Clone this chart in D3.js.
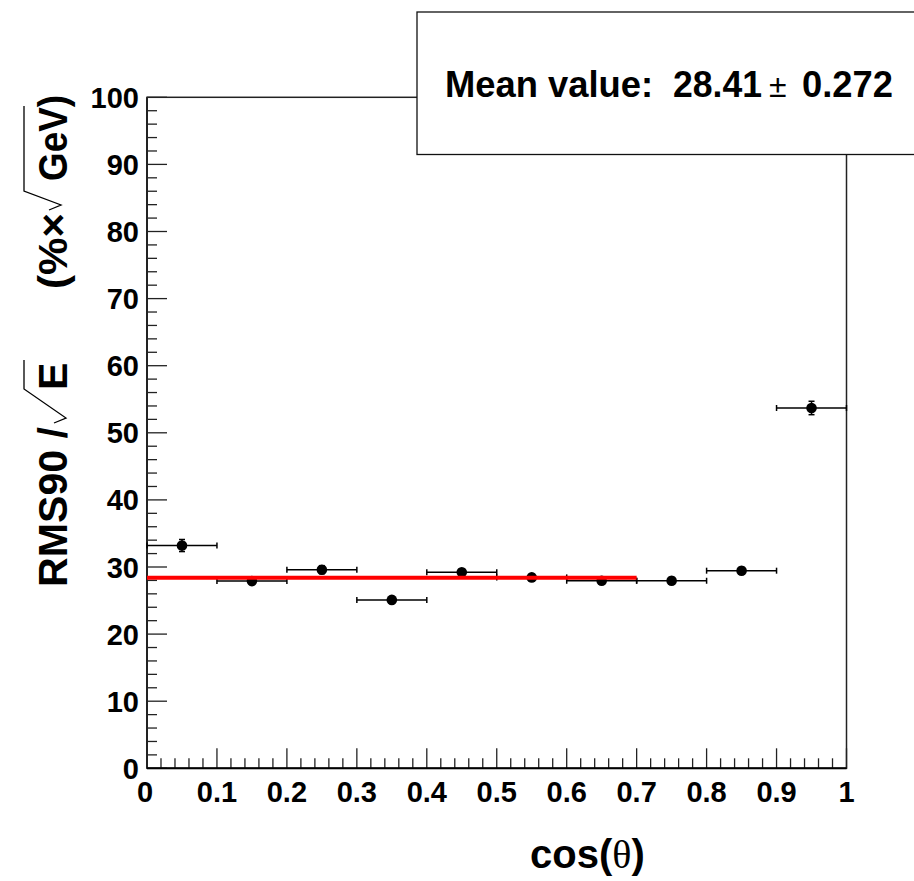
<!DOCTYPE html>
<html>
<head>
<meta charset="utf-8">
<script src="https://cdn.jsdelivr.net/npm/d3@7"></script>
<style>
  html, body { margin: 0; padding: 0; background: #fff; }
  svg { display: block; }
  text { font-family: "Liberation Sans", Arial, Helvetica, sans-serif; }
</style>
</head>
<body>
<svg id="chart" width="914" height="881"></svg>
<script>
// ---- data ----
const binCenters = [0.05, 0.15, 0.25, 0.35, 0.45, 0.55, 0.65, 0.75, 0.85, 0.95];
const binHalfWidth = 0.05;
const rmsValues = [33.2, 27.9, 29.6, 25.1, 29.2, 28.45, 27.95, 27.95, 29.45, 53.7];
const rmsErrors = [0.9, 0.5, 0.6, 0.5, 0.5, 0.5, 0.5, 0.5, 0.5, 1.0];
const fitMean = 28.41;
const fitError = 0.272;
const fitRange = [0, 0.7];
const xTicks = [0, 0.1, 0.2, 0.3, 0.4, 0.5, 0.6, 0.7, 0.8, 0.9, 1];
const xTickLabels = ["0", "0.1", "0.2", "0.3", "0.4", "0.5", "0.6", "0.7", "0.8", "0.9", "1"];
const yTicks = [0, 10, 20, 30, 40, 50, 60, 70, 80, 90, 100];
const yTickLabels = ["0", "10", "20", "30", "40", "50", "60", "70", "80", "90", "100"];

const svg = d3.select("#chart");
const L = 147, R = 846.5, T = 97.3, B = 768.3;
const x = d3.scaleLinear().domain([0, 1]).range([L, R]);
const y = d3.scaleLinear().domain([0, 100]).range([B, T]);
const axisColor = "#222";

// frame (top & right)
svg.append("rect").attr("x", L).attr("y", T).attr("width", R - L).attr("height", B - T)
  .attr("fill", "none").attr("stroke", axisColor).attr("stroke-width", 1.5);

// y axis ticks (inside)
const yMinor = d3.range(0, 100.001, 2);
svg.append("g").selectAll("line").data(yMinor).join("line")
  .attr("x1", L).attr("x2", d => L + (d % 10 === 0 ? 20 : 10))
  .attr("y1", d => y(d)).attr("y2", d => y(d))
  .attr("stroke", axisColor).attr("stroke-width", 1.3);
svg.append("g").selectAll("text").data(yTicks).join("text")
  .attr("x", 139).attr("y", d => y(d) + 10.5)
  .attr("text-anchor", "end").attr("font-size", 29).attr("font-weight", "bold")
  .text((d, i) => yTickLabels[i]);

// x axis ticks (inside)
const xMinor = d3.range(0, 50.001, 1).map(i => i / 50);
svg.append("g").selectAll("line").data(xMinor).join("line")
  .attr("y1", B).attr("y2", (d, i) => B - (i % 5 === 0 ? 20 : 10))
  .attr("x1", d => x(d)).attr("x2", d => x(d))
  .attr("stroke", axisColor).attr("stroke-width", 1.3);
svg.append("g").selectAll("text").data(xTicks).join("text")
  .attr("x", d => x(d) - (d === 0 ? 2 : 0)).attr("y", 802)
  .attr("text-anchor", "middle").attr("font-size", 29).attr("font-weight", "bold")
  .text((d, i) => xTickLabels[i]);

// axis lines (thicker)
svg.append("line").attr("x1", L).attr("x2", L).attr("y1", T).attr("y2", B)
  .attr("stroke", axisColor).attr("stroke-width", 2);
svg.append("line").attr("x1", L).attr("x2", R).attr("y1", B).attr("y2", B)
  .attr("stroke", "#000").attr("stroke-width", 2);

// data: error bars + markers
const pts = binCenters.map((c, i) => ({ c, v: rmsValues[i], e: rmsErrors[i] }));
const g = svg.append("g");
g.selectAll("line.xe").data(pts).join("line").attr("class", "xe")
  .attr("x1", d => x(d.c - binHalfWidth)).attr("x2", d => x(d.c + binHalfWidth))
  .attr("y1", d => y(d.v)).attr("y2", d => y(d.v))
  .attr("stroke", "#000").attr("stroke-width", 1.5);
[-1, 1].forEach(s => {
  g.selectAll("line.xc" + (s + 1)).data(pts).join("line").attr("class", "xc" + (s + 1))
    .attr("x1", d => x(d.c + s * binHalfWidth)).attr("x2", d => x(d.c + s * binHalfWidth))
    .attr("y1", d => y(d.v) - 3).attr("y2", d => y(d.v) + 3)
    .attr("stroke", "#000").attr("stroke-width", 1.5);
  g.selectAll("line.yc" + (s + 1)).data(pts).join("line").attr("class", "yc" + (s + 1))
    .attr("x1", d => x(d.c) - 3).attr("x2", d => x(d.c) + 3)
    .attr("y1", d => y(d.v + s * d.e)).attr("y2", d => y(d.v + s * d.e))
    .attr("stroke", "#000").attr("stroke-width", 1.5);
});
g.selectAll("line.ye").data(pts).join("line").attr("class", "ye")
  .attr("x1", d => x(d.c)).attr("x2", d => x(d.c))
  .attr("y1", d => y(d.v - d.e)).attr("y2", d => y(d.v + d.e))
  .attr("stroke", "#000").attr("stroke-width", 1.5);
g.selectAll("circle").data(pts).join("circle")
  .attr("cx", d => x(d.c)).attr("cy", d => y(d.v)).attr("r", 5.3)
  .attr("fill", "#000");

// fit line
svg.append("line")
  .attr("x1", x(fitRange[0])).attr("x2", x(fitRange[1]))
  .attr("y1", y(fitMean)).attr("y2", y(fitMean))
  .attr("stroke", "#ff0000").attr("stroke-width", 4);

// Mean value box
svg.append("rect").attr("x", 417).attr("y", 12).attr("width", 520).attr("height", 142.5)
  .attr("fill", "#fff").attr("stroke", "#111").attr("stroke-width", 1.3);
const mt = svg.append("text").attr("y", 97).attr("font-size", 36).attr("font-weight", "bold");
mt.append("tspan").attr("x", 445).attr("textLength", 208).attr("lengthAdjust", "spacingAndGlyphs").text("Mean value:");
mt.append("tspan").attr("x", 673).attr("textLength", 89).attr("lengthAdjust", "spacingAndGlyphs").text(fitMean.toFixed(2));
mt.append("tspan").attr("x", 769).attr("font-size", 32).attr("font-weight", "normal").text("±");
mt.append("tspan").attr("x", 802).attr("textLength", 91).attr("lengthAdjust", "spacingAndGlyphs").text(fitError.toFixed(3));

// Y title (rotated), with radical signs
const yt = svg.append("g").attr("transform", "translate(67,0) rotate(-90)");
const ytFont = 41;
function ytText(u, s, len) {
  const t = yt.append("text").attr("x", u).attr("y", 0).attr("font-size", ytFont)
    .attr("font-weight", "bold").text(s);
  if (len) t.attr("textLength", len).attr("lengthAdjust", "spacingAndGlyphs");
}
ytText(-587, "RMS90 /", 160);
ytText(-390, "E");
ytText(-289, "(%×", 76);
ytText(-181, "GeV)", 86);
function radical(uBottom, vBottom, uTop, uEnd) {
  yt.append("path")
    .attr("d", `M${uBottom - 5},${vBottom - 12} L${uBottom},${vBottom} L${uTop},-43 L${uEnd},-43`)
    .attr("fill", "none").attr("stroke", "#000").attr("stroke-width", 1.3);
}
radical(-418, -1, -389, -360);
radical(-205, -6, -191, -106);

// X title
const xt = svg.append("text").attr("x", 530).attr("y", 868).attr("font-size", 40).attr("font-weight", "bold");
xt.append("tspan").text("cos(");
xt.append("tspan").attr("font-family", "'Liberation Serif', 'Times New Roman', serif").attr("font-weight", "normal").text("θ");
xt.append("tspan").text(")");
</script>
</body>
</html>
